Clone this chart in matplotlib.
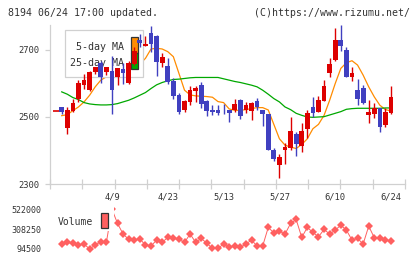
import numpy as np
import matplotlib
matplotlib.use("Agg")
import matplotlib.pyplot as plt
from matplotlib.patches import Rectangle

# ---------------- data ----------------
opens = [2518, 2529, 2468, 2518, 2554, 2595, 2581, 2633, 2660, 2635, 2638, 2618, 2642, 2602, 2658,
         2730, 2713, 2751, 2742, 2662, 2652, 2607, 2566, 2521, 2546, 2578, 2595, 2548, 2521, 2521,
         2516, 2521, 2521, 2551, 2521, 2519, 2549, 2521, 2508, 2402, 2358, 2402, 2408, 2449, 2414,
         2464, 2529, 2516, 2549, 2632, 2670, 2730, 2700, 2620, 2581, 2586, 2507, 2509, 2526, 2476, 2513]
highs = [2518, 2530, 2530, 2555, 2610, 2628, 2637, 2650, 2666, 2650, 2682, 2645, 2662, 2668, 2710,
         2747, 2742, 2772, 2745, 2690, 2677, 2617, 2571, 2552, 2592, 2592, 2603, 2550, 2536, 2536,
         2538, 2522, 2554, 2553, 2545, 2546, 2556, 2522, 2510, 2407, 2390, 2422, 2501, 2456, 2481,
         2521, 2559, 2563, 2610, 2677, 2767, 2775, 2708, 2648, 2612, 2596, 2551, 2541, 2528, 2528, 2593]
lows = [2518, 2510, 2448, 2516, 2546, 2584, 2578, 2628, 2600, 2625, 2508, 2595, 2598, 2598, 2655,
        2710, 2712, 2695, 2623, 2650, 2597, 2554, 2510, 2515, 2536, 2544, 2528, 2503, 2506, 2506,
        2510, 2486, 2516, 2493, 2511, 2491, 2521, 2474, 2400, 2370, 2319, 2360, 2400, 2385, 2396,
        2436, 2501, 2514, 2547, 2620, 2668, 2698, 2618, 2606, 2536, 2540, 2483, 2496, 2456, 2471, 2510]
closes = [2518, 2516, 2521, 2541, 2602, 2610, 2633, 2648, 2620, 2648, 2581, 2645, 2630, 2660, 2697,
          2722, 2718, 2718, 2665, 2679, 2605, 2563, 2516, 2549, 2580, 2587, 2539, 2519, 2514, 2513,
          2514, 2513, 2539, 2504, 2536, 2541, 2531, 2508, 2402, 2375, 2380, 2410, 2459, 2419, 2459,
          2513, 2513, 2551, 2593, 2658, 2730, 2712, 2620, 2632, 2554, 2543, 2515, 2526, 2471, 2514, 2559]

ma5 = [np.nan, 2504, 2507, 2519, 2530, 2545, 2565, 2590, 2610, 2620, 2626, 2630, 2634, 2640, 2648,
       2658, 2675, 2703, 2705, 2703, 2695, 2680, 2630, 2580, 2566, 2563, 2562, 2561, 2559, 2546,
       2543, 2524, 2520, 2520, 2522, 2525, 2528, 2528, 2521, 2478, 2435, 2416, 2410, 2406, 2418,
       2435, 2465, 2478, 2505, 2550, 2600, 2645, 2662, 2668, 2655, 2625, 2590, 2560, 2535, 2522, 2518]
ma25 = [np.nan, 2575, 2568, 2558, 2552, 2543, 2539, 2537, 2536, 2536, 2537, 2540, 2545, 2550, 2557,
        2565, 2573, 2585, 2596, 2603, 2608, 2612, 2613, 2615, 2617, 2618, 2618, 2618, 2618, 2618,
        2614, 2610, 2606, 2603, 2599, 2595, 2590, 2580, 2568, 2555, 2545, 2530, 2522, 2511, 2505,
        2500, 2499, 2500, 2501, 2506, 2511, 2516, 2523, 2525, 2526, 2526, 2526, 2526, 2526, 2527, 2527]
volume = [np.nan, 148000, 166000, 155500, 137300, 148000, 94500, 137300, 172600, 166200, 522000,
          369500, 255000, 198300, 190800, 201500, 137300, 126600, 190800, 166200, 219700,
          209000, 198300, 166200, 255000, 166200, 209000, 155500, 102000, 102000, 148000,
          112700, 126600, 112700, 148000, 190800, 126600, 126600, 326700, 269000, 287100,
          255000, 369500, 412300, 219700, 326700, 273200, 226100, 305300, 255000, 297800,
          351300, 297800, 190800, 209000, 148000, 340600, 215400, 215400, 190800, 180100]

tick_idx = [9, 19, 29, 39, 49, 59]
tick_labels = ["4/9", "4/23", "5/13", "5/27", "6/10", "6/24"]
price_ticks = [2300, 2500, 2700]
vol_ticks = [94500, 308250, 522000]

# ---------------- style ----------------
W, H = 420, 259
RED = "#dd0000"
BLUE = "#4040c0"
ORANGE = "#ff8c00"
GREEN = "#00a800"
VOLC = "#ff6060"
GRID = "#d0d0d0"
TXT = "#333333"
MONO = "DejaVu Sans Mono"

fig = plt.figure(figsize=(W / 100, H / 100), dpi=100)
fig.patch.set_facecolor("white")
T = fig.transFigure

def fr(x0, y0, x1, y1):
    return [x0 / W, 1 - y1 / H, (x1 - x0) / W, (y1 - y0) / H]

x = np.arange(len(opens)) - 1
xlim = (-2.1, 61.5)

# ---------------- price axes ----------------
ax = fig.add_axes(fr(50, 25, 405, 184))
ax.set_xlim(*xlim)
ax.set_ylim(2300, 2774.6)
for s in ["top", "right"]:
    ax.spines[s].set_visible(False)
for s in ["left", "bottom"]:
    ax.spines[s].set_color(GRID)
    ax.spines[s].set_linewidth(0.9)
ax.set_yticks(price_ticks)
ax.set_yticklabels([str(v) for v in price_ticks], fontsize=6.3, family=MONO, color=TXT)
ax.tick_params(axis="y", length=3.6, width=0.9, color=GRID, pad=4)
ax.set_xticks(np.linspace(xlim[0], xlim[1], 12), minor=True)
ax.set_xticks(tick_idx)
ax.set_xticklabels([])
ax.tick_params(axis="x", which="minor", direction="inout", length=6.5, width=0.9, color=GRID)
ax.tick_params(axis="x", which="major", length=0)

ax.plot(x, ma5, color=ORANGE, lw=0.9, zorder=2)
ax.plot(x, ma25, color=GREEN, lw=0.9, zorder=2)

bw = 0.85
for xi, o, h, l, c in zip(x, opens, highs, lows, closes):
    col = RED if c >= o else BLUE
    ax.vlines(xi, l, h, color=col, lw=1.0, zorder=5)
    lo, hi = min(o, c), max(o, c)
    if hi - lo < 1.5:
        ax.hlines(c, xi - 0.55, xi + 0.55, color=col, lw=1.2, zorder=5)
    else:
        ax.add_patch(Rectangle((xi - bw / 2, lo), bw, hi - lo, facecolor=col,
                               edgecolor="none", zorder=5))

# legend (manual, drawn above MAs but below candles)
ax.add_patch(Rectangle((65 / W, 1 - 77.3 / H), 78.3 / W, 47.3 / H, transform=T,
                       facecolor="white", edgecolor=GRID, lw=0.9, zorder=3, clip_on=False))
ax.text(124 / W, 1 - 46.5 / H, "5-day MA", transform=T, ha="right", va="center",
        fontsize=7.2, family=MONO, color=TXT, zorder=4)
ax.text(124 / W, 1 - 63 / H, "25-day MA", transform=T, ha="right", va="center",
        fontsize=7.2, family=MONO, color=TXT, zorder=4)
ax.add_patch(Rectangle((131 / W, 1 - 53 / H), 6.5 / W, 16 / H, transform=T,
                       facecolor=ORANGE, edgecolor="#333333", lw=0.9, zorder=4, clip_on=False))
ax.add_patch(Rectangle((131 / W, 1 - 69.3 / H), 6.5 / W, 16 / H, transform=T,
                       facecolor=GREEN, edgecolor="#333333", lw=0.9, zorder=4, clip_on=False))

# date labels
date_y = -(196.7 - 184) / 159
for ti, lab in zip(tick_idx, tick_labels):
    ax.text(ti, date_y, lab, transform=ax.get_xaxis_transform(), ha="center", va="center",
            fontsize=6.3, family=MONO, color=TXT, clip_on=False)

# ---------------- volume axes ----------------
av = fig.add_axes(fr(50, 209.3, 405, 249))
av.set_xlim(*xlim)
av.set_ylim(vol_ticks[0], vol_ticks[-1])
for s in av.spines.values():
    s.set_visible(False)
av.set_xticks([])
av.set_yticks(vol_ticks)
av.set_yticklabels([str(v) for v in vol_ticks], fontsize=6.0, family=MONO, color=TXT)
av.tick_params(axis="y", length=0, pad=6)
av.plot(x, volume, color=VOLC, lw=0.7, marker="D", markersize=3.8,
        markeredgewidth=0, clip_on=False, zorder=2)
av.add_patch(Rectangle((53 / W, 1 - 231 / H), 60.8 / W, 27 / H, transform=T,
                       facecolor="white", edgecolor="none", zorder=3, clip_on=False))
av.text(58 / W, 1 - 222 / H, "Volume", transform=T, ha="left", va="center",
        fontsize=7.0, family=MONO, color=TXT, zorder=4)
av.add_patch(Rectangle((101 / W, 1 - 228.3 / H), 7 / W, 15.3 / H, transform=T,
                       facecolor=VOLC, edgecolor="#333333", lw=0.9, zorder=4, clip_on=False))

# ---------------- header ----------------
fig.text(8 / W, 1 - 12.7 / H, "8194 06/24 17:00 updated.", ha="left", va="center",
         fontsize=7.1, family=MONO, color=TXT)
fig.text(410 / W, 1 - 12.7 / H, "(C)https://www.rizumu.net/", ha="right", va="center",
         fontsize=7.1, family=MONO, color=TXT)

fig.savefig("out.png", dpi=100, facecolor="white")
